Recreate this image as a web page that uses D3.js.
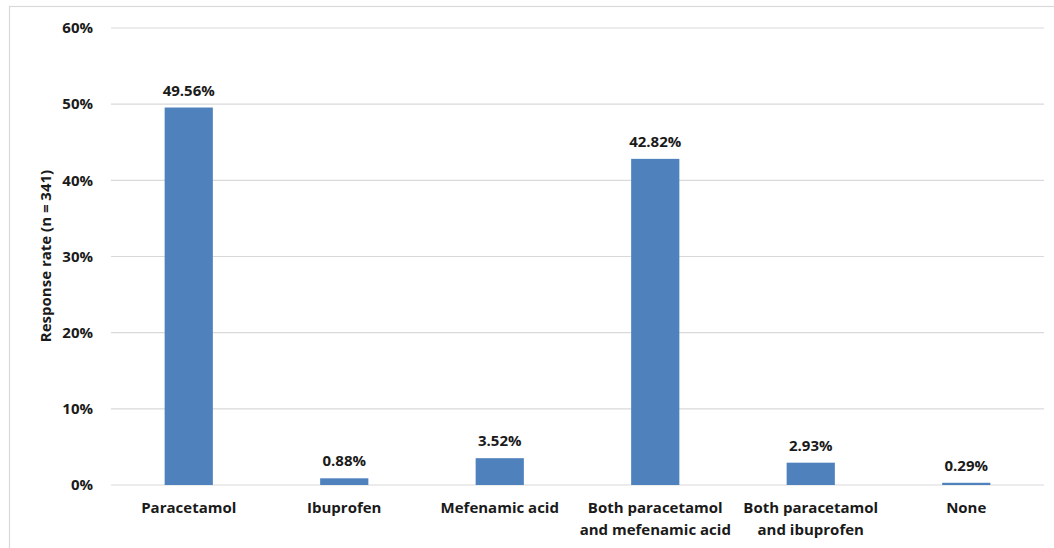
<!DOCTYPE html>
<html><head><meta charset="utf-8">
<script src="https://cdn.jsdelivr.net/npm/d3@7/dist/d3.min.js"></script>
<style>
body{margin:0;background:#fff;}
text{font-family:"Open Sans","Noto Sans",sans-serif;font-weight:bold;fill:#1a1a1a;}
</style></head>
<body>
<svg id="chart" width="1054" height="548"></svg>
<script>
const categories = [["Paracetamol"],["Ibuprofen"],["Mefenamic acid"],["Both paracetamol","and mefenamic acid"],["Both paracetamol","and ibuprofen"],["None"]];
const values = [49.56, 0.88, 3.52, 42.82, 2.93, 0.29];
const yTicks = [0, 10, 20, 30, 40, 50, 60];
const yTitle = "Response rate (n = 341)";

const svg = d3.select("#chart");
const m = {left:111, right:10, top:28, bottom:63};
const W = 1054, H = 548;
const x = d3.scaleBand().domain(d3.range(values.length)).range([m.left, W - m.right]).paddingInner(0.69).paddingOuter(0.345);
const y = d3.scaleLinear().domain([0, 60]).range([H - m.bottom, m.top]);

// border
svg.append("rect").attr("x",9.5).attr("y",6.5).attr("width",1060).attr("height",560)
  .attr("fill","none").attr("stroke","#d9d9d9").attr("stroke-width",1.2);

// gridlines
svg.append("g").selectAll("line").data(yTicks).join("line")
  .attr("x1", m.left).attr("x2", W - m.right)
  .attr("y1", d => y(d)).attr("y2", d => y(d))
  .attr("stroke", "#d9d9d9").attr("stroke-width", 1.2);

// y axis labels
const yAxis = d3.axisLeft(y).tickValues(yTicks).tickFormat(d => d + "%").tickSize(0).tickPadding(18);
const ga = svg.append("g").attr("transform", `translate(${m.left},0)`).call(yAxis);
ga.select(".domain").remove();
ga.selectAll("text").style("font-size","15px").style("font-family",'"Open Sans","Noto Sans",sans-serif').style("font-weight","bold").attr("fill","#1a1a1a");

// bars
svg.append("g").selectAll("rect").data(values).join("rect")
  .attr("x", (d,i) => x(i)).attr("width", x.bandwidth())
  .attr("y", d => y(d)).attr("height", d => y(0) - y(d))
  .attr("fill", "#4F81BD");

// value labels
svg.append("g").selectAll("text").data(values).join("text")
  .attr("x", (d,i) => x(i) + x.bandwidth()/2)
  .attr("y", d => y(d) - 12)
  .attr("text-anchor","middle").style("font-size","15px")
  .text(d => d.toFixed(2) + "%");

// x labels
const xl = svg.append("g").selectAll("text").data(categories).join("text")
  .attr("x", (d,i) => x(i) + x.bandwidth()/2)
  .attr("y", y(0) + 28)
  .attr("text-anchor","middle").style("font-size","15px");
xl.selectAll("tspan").data(d => d).join("tspan")
  .attr("x", function(){ return d3.select(this.parentNode).attr("x"); })
  .attr("dy", (d,i) => i === 0 ? 0 : 22)
  .text(d => d);

// y title
svg.append("text").attr("transform", `translate(51,256) rotate(-90)`)
  .attr("text-anchor","middle").style("font-size","15px").text(yTitle);
</script>
</body></html>
